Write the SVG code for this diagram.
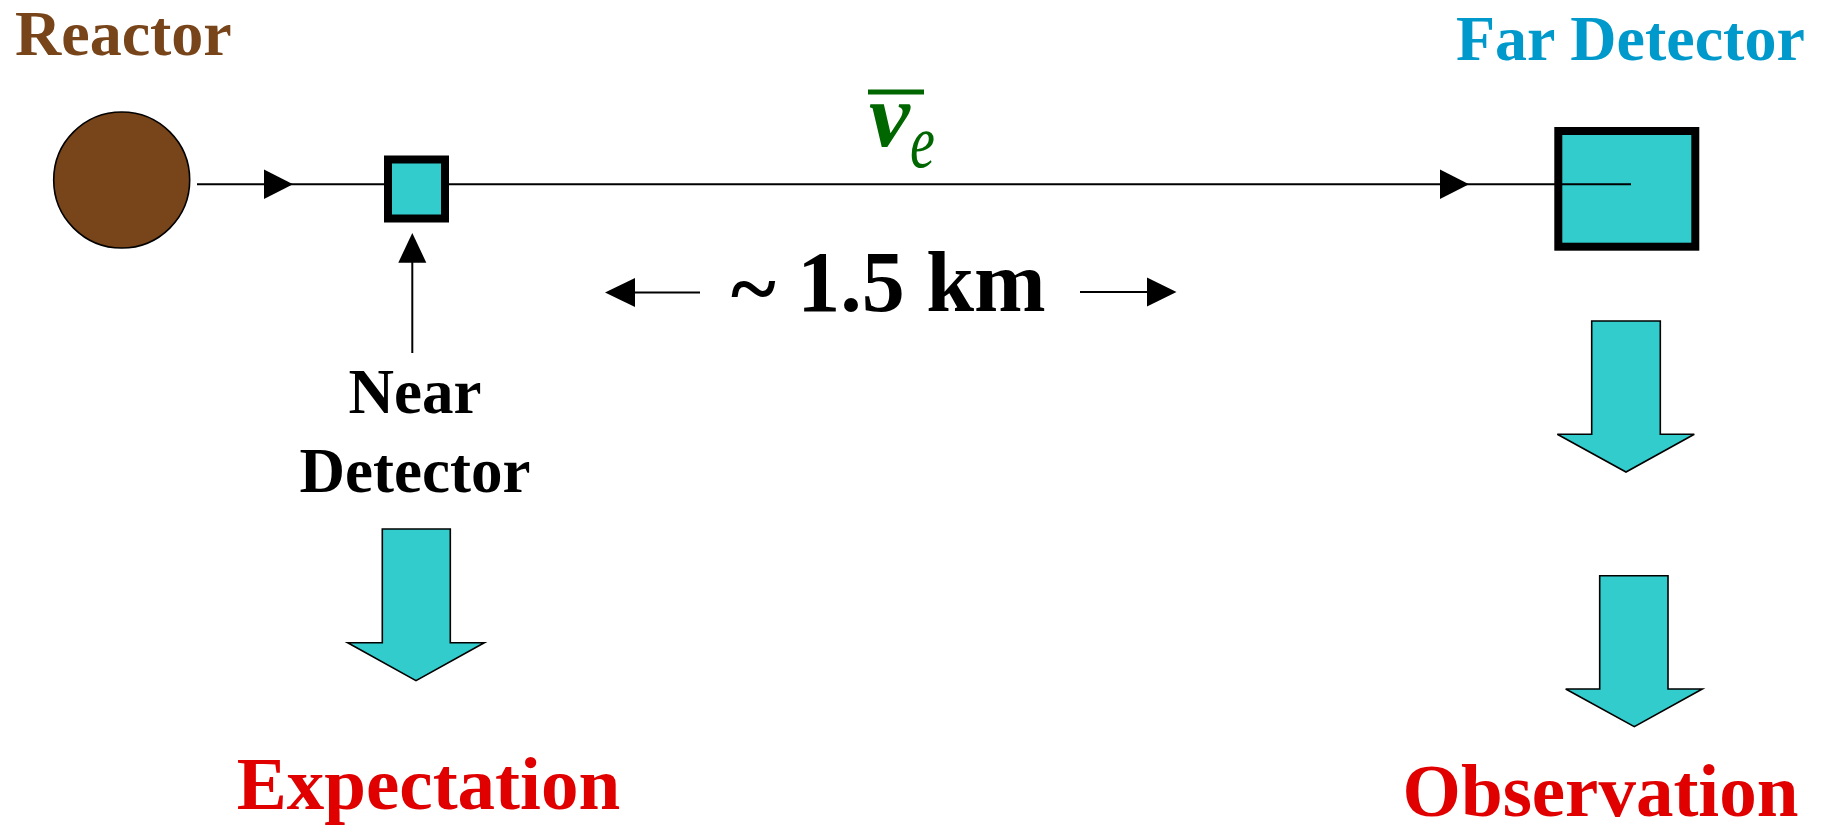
<svg xmlns="http://www.w3.org/2000/svg" width="1826" height="825" viewBox="0 0 1826 825">
<style>
.t{font-family:"Liberation Serif","Times New Roman",serif;font-weight:bold}
.det{fill:#33CCCC;stroke:#000;stroke-width:8}
.blk{fill:#33CCCC;stroke:#000;stroke-width:1.6;stroke-linejoin:miter}
.ln{stroke:#000;stroke-width:2;fill:none}
.ah{fill:#000;stroke:none}
</style>
<rect width="1826" height="825" fill="#fff"/>
<g id="reactor">
<text class="t" x="15" y="55" font-size="64" fill="#78441A">Reactor</text>
<circle cx="121.7" cy="180" r="68" fill="#78441A" stroke="#000" stroke-width="1.6"/>
</g>
<g id="near-detector">
<rect class="det" x="388" y="159.5" width="57" height="59"/>
<text class="t" x="415" y="412.7" font-size="63" text-anchor="middle" fill="#000">Near</text>
<text class="t" x="415" y="491.7" font-size="63" text-anchor="middle" fill="#000">Detector</text>
</g>
<g id="far-detector">
<text class="t" x="1456" y="60" font-size="64" fill="#0099CC">Far Detector</text>
<rect class="det" x="1558.3" y="131" width="137" height="115.7"/>
</g>
<g id="neutrino-label" fill="#006600">
<rect x="868" y="89.5" width="56" height="5"/>
<text x="869" y="146" font-family="Liberation Serif,serif" font-style="italic" font-weight="bold" font-size="92">ν</text>
<text transform="translate(910,167) scale(1,1.35)" font-family="Liberation Serif,serif" font-style="italic" font-size="56">e</text>
</g>
<g id="distance-label">
<text class="t" x="731" y="311" font-size="86" fill="#000"><tspan dy="6">~</tspan><tspan dy="-6"> 1.5 km</tspan></text>
</g>
<g id="expectation-arrow">
<polygon class="blk" points="382.3,529 450.3,529 450.3,642.7 484.3,642.7 416,680.7 347.7,642.7 382.3,642.7"/>
</g>
<g id="expectation">
<text class="t" x="428.5" y="809.3" font-size="75" text-anchor="middle" fill="#E00000">Expectation</text>
</g>
<g id="far-arrow-1">
<polygon class="blk" points="1591.7,321 1660.3,321 1660.3,434.3 1694.3,434.3 1626,472 1557.3,434.3 1591.7,434.3"/>
</g>
<g id="far-arrow-2">
<polygon class="blk" points="1599.7,575.7 1668,575.7 1668,689 1702.3,689 1634.3,726.7 1565.7,689 1599.7,689"/>
</g>
<g id="observation">
<text class="t" x="1600.5" y="816" font-size="75" text-anchor="middle" fill="#E00000">Observation</text>
</g>
<g id="connectors">
<line class="ln" x1="197" y1="184.3" x2="384" y2="184.3"/>
<polygon class="ah" points="293,184.3 264,169.6 264,199"/>
<line class="ln" x1="449" y1="184.3" x2="1631" y2="184.3"/>
<polygon class="ah" points="1469,184.3 1440,169.6 1440,199"/>
<line class="ln" x1="412.3" y1="258" x2="412.3" y2="353"/>
<polygon class="ah" points="412.3,233 398.3,262.7 426.3,262.7"/>
<line class="ln" x1="630" y1="292.5" x2="700" y2="292.5"/>
<polygon class="ah" points="605,292.5 635,278 635,307"/>
<line class="ln" x1="1080" y1="292" x2="1152" y2="292"/>
<polygon class="ah" points="1176.5,292 1147,277.5 1147,306.5"/>
</g>
</svg>
